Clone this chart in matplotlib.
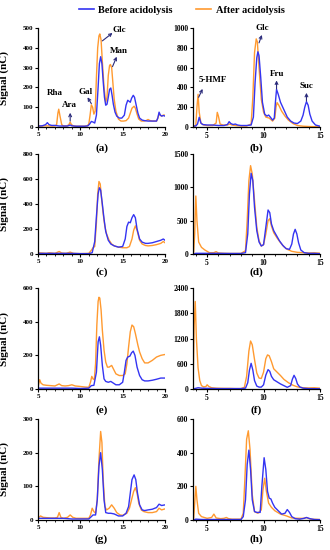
import matplotlib
matplotlib.use("Agg")
import matplotlib.pyplot as plt
from matplotlib.ticker import MultipleLocator
from matplotlib.lines import Line2D

plt.rcParams['font.family'] = ['Liberation Serif', 'DejaVu Serif']
plt.rcParams['font.weight'] = 'bold'

BLUE = '#3434f2'
ORANGE = '#ff9a30'

# ---------------- data ----------------
a_bx = [5.0,5.5,5.9,6.1,6.3,6.6,7.0,7.5,8.0,8.5,8.8,9.0,9.5,10.0,10.5,10.9,11.1,11.3,11.5,11.7,11.9,12.1,12.25,12.4,12.55,12.7,12.85,13.0,13.15,13.3,13.45,13.6,13.75,13.9,14.1,14.3,14.6,14.9,15.2,15.4,15.6,15.75,15.9,16.05,16.25,16.4,16.6,16.8,17.0,17.3,17.6,18.0,18.5,19.0,19.15,19.3,19.45,19.6,19.8,20.0]
a_by = [5,6,12,22,12,8,8,5,5,5,10,6,4,4,4,6,15,28,25,20,60,200,320,355,320,230,150,110,115,150,190,197,160,115,75,55,45,45,60,110,135,130,125,145,160,150,110,70,45,35,32,30,30,30,45,75,60,55,58,55]
a_ox = [5.0,5.5,6.0,6.5,7.0,7.2,7.35,7.45,7.6,7.8,8.0,8.4,8.65,8.8,8.95,9.2,9.6,10.0,10.5,10.8,11.0,11.15,11.3,11.45,11.6,11.75,11.9,12.05,12.2,12.3,12.45,12.6,12.8,13.0,13.15,13.3,13.45,13.55,13.7,13.85,14.0,14.2,14.5,14.8,15.1,15.4,15.7,15.9,16.1,16.35,16.5,16.7,16.9,17.2,17.5,17.8,18.0,18.2,18.5,19.0,19.15,19.3,19.45,19.6,19.8,20.0]
a_oy = [5,5,6,5,5,12,70,90,55,12,5,5,12,25,12,5,4,4,4,5,15,60,112,100,65,80,250,400,460,470,440,330,200,125,150,260,310,316,300,220,140,80,40,30,30,32,45,70,95,105,95,65,40,30,30,33,38,33,30,30,45,65,60,55,60,60]

b_bx = [3.8,4.0,4.15,4.3,4.45,4.6,5.0,5.5,6.0,6.5,6.8,6.95,7.1,7.3,7.5,7.7,8.0,8.5,8.9,9.1,9.25,9.4,9.5,9.6,9.75,9.9,10.1,10.3,10.45,10.6,10.8,10.95,11.05,11.15,11.3,11.5,11.7,11.9,12.1,12.4,12.7,13.0,13.3,13.5,13.65,13.8,13.95,14.1,14.3,14.6,15.0]
b_by = [10,10,30,98,40,25,20,20,15,15,25,54,35,25,30,20,15,15,20,100,450,700,760,720,500,250,130,110,121,100,70,90,250,380,330,250,200,150,100,60,40,35,60,120,200,256,220,130,60,20,8]
b_ox = [3.8,4.0,4.1,4.2,4.3,4.45,4.7,5.0,5.5,5.8,5.9,6.0,6.15,6.4,6.8,7.0,7.2,7.5,8.0,8.5,8.9,9.05,9.2,9.35,9.45,9.6,9.8,10.0,10.2,10.5,10.8,11.0,11.1,11.2,11.35,11.6,11.9,12.2,12.6,13.0,13.5,14.0,14.5,15.0]
b_oy = [0,20,200,330,150,40,20,15,15,40,148,110,30,20,20,30,20,15,10,10,30,300,750,890,860,600,280,150,100,90,60,90,200,246,220,160,110,70,35,15,8,5,3,2]

c_bx = [5.0,6.0,7.0,8.0,9.0,10.0,11.0,11.4,11.7,11.9,12.1,12.25,12.4,12.6,12.8,13.0,13.3,13.6,14.0,14.5,15.0,15.3,15.5,15.7,15.9,16.1,16.3,16.5,16.7,17.0,17.3,17.7,18.0,18.5,19.0,19.5,19.8,20.0]
c_by = [5,5,5,5,5,3,3,10,100,300,480,530,510,400,280,180,110,80,65,55,60,120,220,255,250,290,315,290,200,120,95,85,85,90,100,110,120,110]
c_ox = [5.0,5.5,6.0,6.3,6.6,7.0,7.5,7.8,8.3,8.8,9.2,10.0,11.0,11.3,11.5,11.7,11.9,12.05,12.2,12.35,12.5,12.7,12.9,13.1,13.4,13.7,14.0,14.5,15.0,15.5,15.8,16.1,16.3,16.5,16.7,17.0,17.3,17.7,18.0,18.5,19.0,19.5,19.8,20.0]
c_oy = [10,8,5,10,8,5,20,8,5,15,5,3,5,30,50,60,250,480,580,560,450,320,220,160,110,80,65,55,50,50,60,120,190,225,190,110,80,68,65,68,75,85,100,90]

d_bx = [3.8,4.0,4.5,5.0,6.0,7.0,8.0,8.4,8.6,8.75,8.9,9.05,9.2,9.4,9.6,9.8,10.0,10.2,10.4,10.55,10.7,10.9,11.1,11.4,11.7,12.0,12.3,12.5,12.65,12.8,12.95,13.1,13.3,13.6,14.0,14.5,15.0]
d_by = [0,10,10,10,10,8,8,20,300,900,1210,1100,700,350,180,120,140,400,660,620,450,350,290,200,130,80,70,150,300,370,300,170,60,20,10,10,5]
d_ox = [3.8,3.9,4.0,4.1,4.25,4.5,4.8,5.2,5.6,5.8,6.0,6.5,7.0,8.0,8.4,8.55,8.7,8.85,9.0,9.2,9.4,9.6,9.8,10.0,10.2,10.4,10.55,10.7,10.9,11.2,11.5,11.8,12.1,12.5,13.0,13.5,14.0,14.5,15.0]
d_oy = [0,300,870,500,180,100,60,20,20,35,15,10,8,8,50,500,1100,1325,1200,800,400,200,120,140,300,500,530,420,320,240,170,110,70,40,25,20,15,18,12]

e_bx = [5.0,6.0,7.0,8.0,9.0,10.0,11.0,11.3,11.6,11.9,12.1,12.25,12.4,12.6,12.8,13.0,13.3,13.6,13.9,14.2,14.6,15.0,15.2,15.4,15.6,15.85,16.05,16.25,16.45,16.7,17.0,17.3,17.6,18.0,18.5,19.0,19.5,20.0]
e_by = [5,5,5,5,5,3,5,20,22,100,280,310,260,140,60,45,40,45,35,25,25,40,100,170,190,195,215,225,200,130,80,55,48,48,52,58,65,65]
e_ox = [5.0,5.1,5.2,5.35,5.6,6.0,6.5,7.0,7.5,7.8,8.2,8.6,9.0,9.4,10.0,10.5,11.0,11.2,11.35,11.5,11.65,11.8,11.95,12.1,12.2,12.3,12.45,12.6,12.8,13.0,13.2,13.4,13.7,13.9,14.2,14.6,15.0,15.3,15.5,15.7,15.9,16.1,16.3,16.5,16.8,17.0,17.3,17.6,18.0,18.5,19.0,19.5,20.0]
e_oy = [10,35,55,35,25,22,20,18,30,20,18,20,25,18,15,12,10,40,75,60,55,150,380,520,545,540,470,350,230,160,130,130,140,120,90,80,80,90,150,250,340,380,370,330,260,220,180,155,155,170,190,200,205]

f_bx = [3.7,3.9,4.2,4.5,5.0,6.0,7.0,8.0,8.4,8.6,8.75,8.9,9.05,9.2,9.4,9.6,9.8,10.0,10.2,10.4,10.55,10.7,10.9,11.2,11.5,11.8,12.1,12.4,12.55,12.7,12.85,13.0,13.2,13.5,14.0,15.0]
f_by = [0,10,30,20,15,10,10,10,20,150,450,610,450,200,70,45,45,100,330,460,420,300,220,170,120,80,40,80,230,325,250,120,50,20,10,5]
f_ox = [3.75,3.85,3.95,4.05,4.2,4.35,4.5,4.7,4.9,5.0,5.15,5.4,5.8,6.5,7.0,7.5,8.0,8.3,8.5,8.7,8.85,9.0,9.2,9.4,9.6,9.8,10.0,10.2,10.35,10.5,10.7,10.9,11.2,11.5,11.8,12.2,12.6,13.0,13.5,14.0,14.5,15.0]
f_oy = [0,1500,2080,1200,500,200,80,50,60,100,60,30,20,15,15,10,10,40,300,900,1140,1050,700,380,260,250,400,720,810,790,650,480,400,320,230,150,90,50,30,25,30,20]

g_bx = [5.0,6.0,7.0,8.0,9.0,10.0,11.0,11.3,11.5,11.8,12.0,12.2,12.4,12.6,12.8,13.0,13.3,13.6,14.0,14.5,15.0,15.4,15.7,15.9,16.1,16.35,16.55,16.75,17.0,17.3,17.6,18.0,18.5,19.0,19.3,19.6,20.0]
g_by = [5,5,5,5,3,3,3,10,15,15,60,160,200,150,60,22,20,20,18,12,12,20,40,80,120,134,120,80,45,30,28,30,32,37,47,43,45]
g_ox = [5.0,5.1,5.3,5.6,6.0,6.5,7.0,7.3,7.5,7.7,8.0,8.5,8.8,9.1,9.5,10.0,10.5,11.0,11.2,11.4,11.6,11.8,12.0,12.2,12.4,12.55,12.7,12.9,13.1,13.4,13.7,14.0,14.3,14.7,15.0,15.5,15.8,16.1,16.3,16.5,16.7,16.9,17.2,17.5,18.0,18.5,19.0,19.3,19.6,20.0]
g_oy = [12,8,12,8,7,6,6,8,22,8,5,8,15,8,5,5,5,5,15,35,25,20,60,180,263,230,120,40,30,35,45,35,22,15,14,20,35,65,85,96,80,50,30,25,22,22,25,35,30,33]

h_bx = [3.8,4.0,4.5,5.0,6.0,7.0,8.0,8.2,8.4,8.55,8.7,8.85,9.0,9.2,9.4,9.7,9.85,10.05,10.2,10.35,10.5,10.65,10.8,11.0,11.3,11.6,11.9,12.1,12.3,12.5,12.8,13.2,13.6,13.8,14.1,14.5,15.0]
h_by = [0,5,3,3,3,3,3,20,120,330,415,300,120,50,45,45,200,370,300,170,130,125,100,75,55,35,40,62,45,20,8,5,10,15,8,3,2]
h_ox = [3.8,3.9,4.0,4.1,4.25,4.5,5.0,5.4,5.6,5.8,6.2,6.5,6.7,6.9,7.2,8.0,8.2,8.35,8.5,8.65,8.8,9.0,9.2,9.5,9.8,9.95,10.1,10.25,10.45,10.7,11.0,11.5,12.0,12.5,13.0,13.5,13.8,14.2,15.0]
h_oy = [0,100,200,120,40,20,10,15,35,12,8,10,15,8,5,5,40,250,480,530,420,150,50,40,60,180,248,170,100,75,55,35,25,12,10,10,14,5,3]

panel_labels = ['(a)', '(b)', '(c)', '(d)', '(e)', '(f)', '(g)', '(h)']
y_limits = [500, 1000, 800, 1500, 600, 2400, 300, 600]
y_steps = [100, 200, 200, 500, 200, 600, 100, 200]
series = [(a_bx, a_by, a_ox, a_oy), (b_bx, b_by, b_ox, b_oy),
          (c_bx, c_by, c_ox, c_oy), (d_bx, d_by, d_ox, d_oy),
          (e_bx, e_by, e_ox, e_oy), (f_bx, f_by, f_ox, f_oy),
          (g_bx, g_by, g_ox, g_oy), (h_bx, h_by, h_ox, h_oy)]

# peak annotations: (text, text position, (arrow start, arrow end))
ann_a = [('Rha', (7.0, 150), None),
         ('Ara', (8.7, 92), ((8.8, 30), (8.8, 72))),
         ('Gal', (10.6, 158), ((11.3, 118), (10.85, 150))),
         ('Glc', (14.6, 470), ((12.6, 435), (13.8, 475))),
         ('Man', (14.6, 362), ((13.8, 305), (14.3, 355)))]
ann_b = [('5-HMF', (5.5, 430), ((4.25, 300), (4.6, 385))),
         ('Glc', (9.9, 960), ((9.6, 850), (9.85, 930))),
         ('Fru', (11.2, 500), ((11.15, 385), (11.15, 470))),
         ('Suc', (13.8, 375), ((13.8, 262), (13.8, 345)))]

# ---------------- layout ----------------
W, H = 330, 550
fig = plt.figure(figsize=(W / 100, H / 100), dpi=100)
cols = [(38, 165), (193, 320)]
rows = [(28, 127), (154, 254), (288, 389), (419, 520)]
label_y = [148, 272, 410, 539]

axes = []
for i in range(8):
    r, c = divmod(i, 2)
    x0, x1 = cols[c]
    y0, y1 = rows[r]
    ax = fig.add_axes([x0 / W, 1 - y1 / H, (x1 - x0) / W, (y1 - y0) / H])
    axes.append(ax)
    bx, by, ox, oy = series[i]
    ax.plot(ox, oy, color=ORANGE, lw=1.0)
    ax.plot(bx, by, color=BLUE, lw=1.0)
    if c == 0:
        ax.set_xlim(5, 20)
        ax.xaxis.set_major_locator(MultipleLocator(5))
        ax.set_ylabel('Signal (nC)', fontsize=8, fontweight='bold')
        ax.yaxis.set_label_coords(-0.23, 0.5)
        fs = 5
    else:
        ax.set_xlim(3.75, 15)
        ax.set_xticks([5, 10, 15])
        fs = 5.5
    ax.xaxis.set_minor_locator(MultipleLocator(1))
    ax.set_ylim(0, y_limits[i])
    ax.yaxis.set_major_locator(MultipleLocator(y_steps[i]))
    for s in ['top', 'right']:
        ax.spines[s].set_visible(False)
    for s in ['left', 'bottom']:
        ax.spines[s].set_linewidth(0.9)
    ax.tick_params(axis='both', which='major', length=2.5, width=0.8, labelsize=fs, pad=0.8)
    ax.tick_params(axis='x', which='minor', length=1.5, width=0.6)
    for t in ax.get_xticklabels() + ax.get_yticklabels():
        t.set_fontweight('bold')
    fig.text((x0 + x1) / 2 / W, 1 - label_y[r] / H, panel_labels[i],
             ha='center', va='center', fontsize=8, fontweight='bold')

for ax, anns in [(axes[0], ann_a), (axes[1], ann_b)]:
    for txt, pos, arr in anns:
        ax.text(pos[0], pos[1], txt, ha='center', va='bottom', fontsize=6.5, fontweight='bold')
        if arr is not None:
            ax.annotate('', xy=arr[1], xytext=arr[0],
                        arrowprops=dict(arrowstyle='->', color='#2a2a7a', lw=0.8,
                                        shrinkA=0, shrinkB=0, mutation_scale=5))

handles = [Line2D([], [], color=BLUE, lw=1.2), Line2D([], [], color=ORANGE, lw=1.2)]
fig.legend(handles, ['Before acidolysis', 'After acidolysis'], loc='center',
           bbox_to_anchor=(0.55, 1 - 10 / H), ncol=2, frameon=False,
           prop={'size': 7.5, 'weight': 'bold'}, handlelength=1.5,
           handletextpad=0.4, columnspacing=2.2, borderaxespad=0)

fig.savefig('out.png', dpi=100)
